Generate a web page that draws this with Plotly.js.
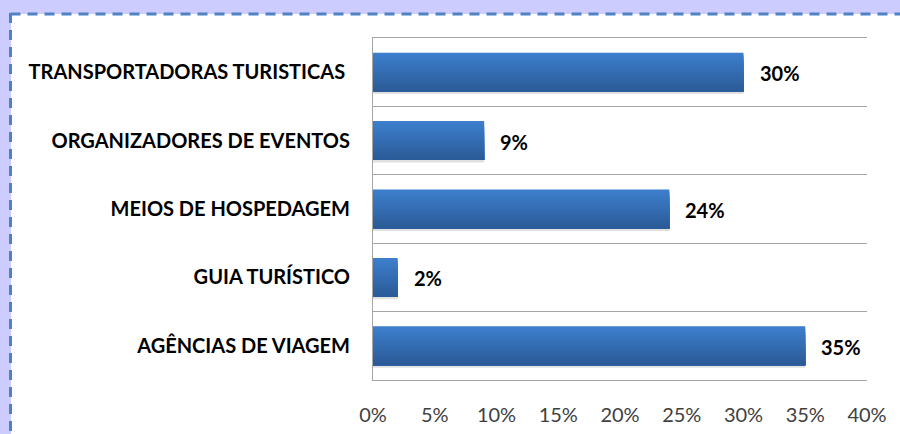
<!DOCTYPE html>
<html>
<head>
<meta charset="utf-8">
<script src="https://cdn.plot.ly/plotly-3.0.1.min.js"></script>
<style>
html,body{margin:0;padding:0;background:#ccccff;}
#chart{width:900px;height:434px;}
</style>
</head>
<body>
<div id="chart"></div>
<script>
// Data (top to bottom)
const categories = [
  "TRANSPORTADORAS TURISTICAS ",
  "ORGANIZADORES DE EVENTOS",
  "MEIOS DE HOSPEDAGEM",
  "GUIA TURÍSTICO",
  "AGÊNCIAS DE VIAGEM"
];
const values = [30, 9, 24, 2, 35];
const valueLabels = ["30%", "9%", "24%", "2%", "35%"];
const xTickVals = [0, 5, 10, 15, 20, 25, 30, 35, 40];
const xTickText = ["0%", "5%", "10%", "15%", "20%", "25%", "30%", "35%", "40%"];

(function () {
// Layout geometry
const W = 900, H = 434;
const L = 373, R = 33, T = 38, B = 54;
const pw = W - L - R, ph = H - T - B;
const px = v => (v - L) / pw;
const py = v => (H - B - v) / ph;

// Gradient bars built as stacked bands (top light -> bottom dark)
const barWidth = 0.57;
const nBands = 14;
const cTop = [61, 126, 204], cBot = [43, 91, 152];
const traces = [];
// shadow
traces.push({
  type: 'bar', orientation: 'h', y: categories, x: values,
  width: barWidth, offset: -barWidth / 2 + 0.035,
  marker: {color: 'rgba(0,0,0,0.12)', line: {width: 0}},
  hoverinfo: 'skip', showlegend: false
});
for (let i = 0; i < nBands; i++) {
  const t = i / (nBands - 1);
  const c = cTop.map((a, k) => Math.round(a + (cBot[k] - a) * t));
  const bw = barWidth / nBands;
  traces.push({
    type: 'bar', orientation: 'h', y: categories, x: values,
    width: barWidth - i * bw, offset: -barWidth / 2 + i * bw,
    marker: {color: `rgb(${c[0]},${c[1]},${c[2]})`, line: {width: 0}},
    hoverinfo: 'skip', showlegend: false
  });
}

const annotations = categories.map((c, i) => ({
  x: values[i], y: c, xref: 'x', yref: 'y',
  text: valueLabels[i], showarrow: false,
  xanchor: 'left', yanchor: 'middle', xshift: 14, yshift: -1,
  font: {family: 'Lato, "Open Sans", sans-serif', size: 20, color: '#000', weight: 'bold'}
}));

const dashColor = '#4f81c4';
const shapes = [
  {type: 'rect', xref: 'paper', yref: 'paper', layer: 'below',
   x0: px(11), x1: px(900), y0: py(434), y1: py(14),
   fillcolor: '#ffffff', line: {width: 0}},
  {type: 'line', xref: 'paper', yref: 'paper', layer: 'above',
   x0: px(10.5), x1: px(900), y0: py(14), y1: py(14),
   line: {color: dashColor, width: 3, dash: '10px,7px'}},
  {type: 'line', xref: 'paper', yref: 'paper', layer: 'above',
   x0: px(10.5), x1: px(10.5), y0: py(13), y1: py(434),
   line: {color: dashColor, width: 3, dash: '10px,7px'}}
];

const layout = {
  width: W, height: H,
  margin: {l: L, r: R, t: T, b: B, pad: 0},
  paper_bgcolor: '#ccccff',
  plot_bgcolor: 'rgba(0,0,0,0)',
  barmode: 'overlay',
  showlegend: false,
  xaxis: {
    range: [0, 40], tickvals: xTickVals, ticktext: xTickText,
    showgrid: false, zeroline: false,
    showline: true, mirror: true, linecolor: '#a6a6a6', linewidth: 1,
    ticks: '', ticklabelstandoff: 17,
    tickfont: {family: 'Lato, "Open Sans", sans-serif', size: 20, color: '#404040'},
    fixedrange: true
  },
  yaxis: {
    type: 'category', categoryorder: 'array', categoryarray: categories,
    autorange: 'reversed', tickson: 'boundaries',
    showgrid: true, gridcolor: '#a6a6a6', gridwidth: 1,
    showline: true, linecolor: '#a6a6a6', linewidth: 1,
    ticks: '', ticklabelstandoff: 18,
    tickfont: {family: 'Lato, "Open Sans", sans-serif', size: 20, color: '#000', weight: 'bold'},
    fixedrange: true
  },
  annotations: annotations,
  shapes: shapes
};

Plotly.newPlot('chart', traces, layout, {displayModeBar: false, staticPlot: true});
})();
</script>
</body>
</html>
